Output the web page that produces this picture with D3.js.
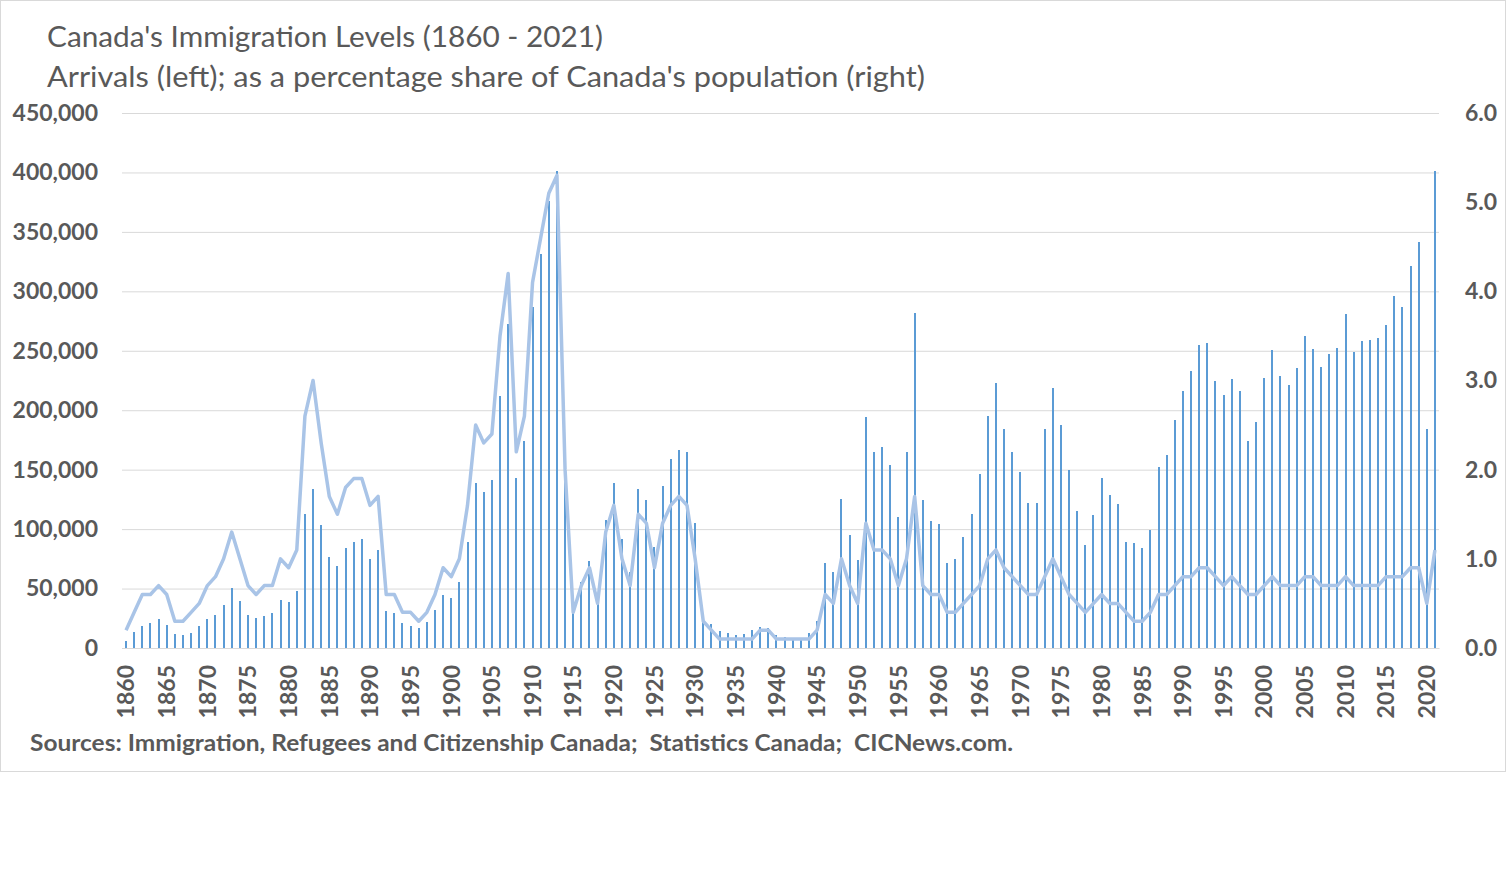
<!DOCTYPE html>
<html>
<head>
<meta charset="utf-8">
<script src="https://cdn.jsdelivr.net/npm/d3@7"></script>
<style>
  body { margin: 0; background: #fff; }
  text { font-family: Lato, "Open Sans", sans-serif; fill: #595959; }
</style>
</head>
<body>
<div id="chart"></div>
<script>
// data, 1860 - 2021

var years = d3.range(1860, 2022);

var arrivals = [
  6276, 13589, 18294, 21000, 24779, 18958, 11427, 10666, 12765, 18630,
  24706, 27773, 36578, 50050, 39373, 27382, 25633, 27082, 29807, 40492,
  38505, 47991, 112458, 133624, 103824, 76169, 69152, 84526, 88766, 91600,
  75067, 82165, 30996, 29633, 20829, 18790, 16835, 21716, 31900, 44543,
  41681, 55747, 89102, 138660, 131252, 141465, 211653, 272409, 143326, 173694,
  286839, 331288, 375756, 400870, 150484, 36665, 55914, 72910, 41845, 107698,
  138824, 91728, 64224, 133729, 124164, 84907, 135982, 158886, 166783, 164993,
  104806, 27530, 20591, 14382, 12476, 11277, 11643, 15101, 17244, 16994,
  11324, 9329, 7576, 8504, 12801, 22722, 71719, 64127, 125414, 95217,
  73912, 194391, 164498, 168868, 154227, 109946, 164857, 282164, 124851, 106928,
  104111, 71698, 74856, 93151, 112606, 146758, 194743, 222876, 183974, 164531,
  147713, 121900, 122006, 184200, 218465, 187881, 149429, 114914, 86313, 112096,
  143117, 128618, 121147, 89157, 88239, 84302, 99219, 152098, 161929, 191556,
  216452, 232744, 254817, 256641, 224364, 212504, 226073, 216038, 174100, 189954,
  227458, 250640, 229048, 221349, 235823, 262242, 251640, 236758, 247246, 252179,
  280691, 248748, 257903, 259023, 260404, 271845, 296346, 286479, 321045, 341180,
  184595, 401000
];

var share = [
  0.2, 0.4, 0.6, 0.6, 0.7, 0.6, 0.3, 0.3, 0.4, 0.5,
  0.7, 0.8, 1.0, 1.3, 1.0, 0.7, 0.6, 0.7, 0.7, 1.0,
  0.9, 1.1, 2.6, 3.0, 2.3, 1.7, 1.5, 1.8, 1.9, 1.9,
  1.6, 1.7, 0.6, 0.6, 0.4, 0.4, 0.3, 0.4, 0.6, 0.9,
  0.8, 1.0, 1.6, 2.5, 2.3, 2.4, 3.5, 4.2, 2.2, 2.6,
  4.1, 4.6, 5.1, 5.3, 2.0, 0.4, 0.7, 0.9, 0.5, 1.3,
  1.6, 1.0, 0.7, 1.5, 1.4, 0.9, 1.4, 1.6, 1.7, 1.6,
  1.0, 0.3, 0.2, 0.1, 0.1, 0.1, 0.1, 0.1, 0.2, 0.2,
  0.1, 0.1, 0.1, 0.1, 0.1, 0.2, 0.6, 0.5, 1.0, 0.7,
  0.5, 1.4, 1.1, 1.1, 1.0, 0.7, 1.0, 1.7, 0.7, 0.6,
  0.6, 0.4, 0.4, 0.5, 0.6, 0.7, 1.0, 1.1, 0.9, 0.8,
  0.7, 0.6, 0.6, 0.8, 1.0, 0.8, 0.6, 0.5, 0.4, 0.5,
  0.6, 0.5, 0.5, 0.4, 0.3, 0.3, 0.4, 0.6, 0.6, 0.7,
  0.8, 0.8, 0.9, 0.9, 0.8, 0.7, 0.8, 0.7, 0.6, 0.6,
  0.7, 0.8, 0.7, 0.7, 0.7, 0.8, 0.8, 0.7, 0.7, 0.7,
  0.8, 0.7, 0.7, 0.7, 0.7, 0.8, 0.8, 0.8, 0.9, 0.9,
  0.5, 1.1
];

var leftTicks = d3.range(0, 450001, 50000);
var rightTicks = d3.range(0, 6.01, 1);
var yearTicks = years.filter(function(d) { return d % 5 === 0; });

var title = "Canada's Immigration Levels (1860 - 2021)";
var subtitle = "Arrivals (left); as a percentage share of Canada's population (right)";
var source = "Sources: Immigration, Refugees and Citizenship Canada;  Statistics Canada;  CICNews.com.";

// size of the picture and the plot area

var w = 1507,
    h = 872,
    plotL = 122, plotR = 1439, plotT = 113, plotB = 648;

var svg = d3.select("#chart")
    .append("svg")
    .attr("width", w)
    .attr("height", h);

// chart border
svg.append("rect")
    .attr("x", 0.5).attr("y", 0.5)
    .attr("width", 1505).attr("height", 771)
    .attr("fill", "none")
    .attr("stroke", "#d9d9d9");

var x = d3.scaleBand()
    .domain(years)
    .range([plotL, plotR]);

var y = d3.scaleLinear()
    .domain([0, 450000])
    .range([plotB, plotT]);

var y2 = d3.scaleLinear()
    .domain([0, 6])
    .range([plotB, plotT]);

// left axis with grid lines
var gl = svg.append("g")
    .attr("transform", "translate(" + plotL + ",0)")
    .call(d3.axisLeft(y)
        .tickValues(leftTicks)
        .tickSize(-(plotR - plotL))
        .tickPadding(24)
        .tickFormat(d3.format(",")));
gl.select(".domain").remove();
gl.selectAll("line").attr("stroke", "#d9d9d9");
gl.selectAll("text")
    .attr("font-size", "23px")
    .attr("font-weight", "bold")
    .attr("fill", "#595959");

// right axis
var gr = svg.append("g")
    .attr("transform", "translate(" + plotR + ",0)")
    .call(d3.axisRight(y2)
        .tickValues(rightTicks)
        .tickSize(0)
        .tickPadding(26)
        .tickFormat(d3.format(".1f")));
gr.select(".domain").remove();
gr.selectAll("text")
    .attr("font-size", "23px")
    .attr("font-weight", "bold")
    .attr("fill", "#595959");

// bars, snapped to whole pixels so they stay crisp
var bw = 2;
svg.append("g")
    .attr("shape-rendering", "crispEdges")
    .selectAll("rect")
    .data(arrivals)
    .enter().append("rect")
    .attr("x", function(d, i) { return Math.round(x(years[i]) + x.bandwidth() / 2 - bw / 2); })
    .attr("y", function(d) { return y(d); })
    .attr("width", bw)
    .attr("height", function(d) { return plotB - y(d); })
    .attr("fill", "#5b9bd5");

// share line
var line = d3.line()
    .x(function(d, i) { return x(years[i]) + x.bandwidth() / 2; })
    .y(function(d) { return y2(d); });

svg.append("path")
    .datum(share)
    .attr("fill", "none")
    .attr("stroke", "#a9c4e7")
    .attr("stroke-width", 3.5)
    .attr("stroke-linejoin", "round")
    .attr("d", line);

// x axis with rotated year labels
var gx = svg.append("g")
    .attr("transform", "translate(0," + plotB + ")")
    .call(d3.axisBottom(x)
        .tickValues(yearTicks)
        .tickSize(0));
gx.select(".domain")
    .attr("stroke", "#d9d9d9");
gx.selectAll("text")
    .attr("transform", "rotate(-90)")
    .attr("x", -17)
    .attr("y", 0)
    .attr("dy", "0.36em")
    .attr("font-size", "23px")
    .attr("font-weight", "bold")
    .attr("fill", "#595959")
    .style("text-anchor", "end");

// titles and source note
render_text(title, "28px", "normal", 47, 47, 556);
render_text(subtitle, "28px", "normal", 47, 87, 878);
render_text(source, "23px", "bold", 30, 751, 983);

function render_text(text, size, weight, tx, ty, len) {
    svg.append("text")
        .attr("x", tx)
        .attr("y", ty)
        .attr("font-size", size)
        .attr("font-weight", weight)
        .attr("textLength", len)
        .attr("lengthAdjust", "spacingAndGlyphs")
        .style("white-space", "pre")
        .text(text);
}
</script>
</body>
</html>
